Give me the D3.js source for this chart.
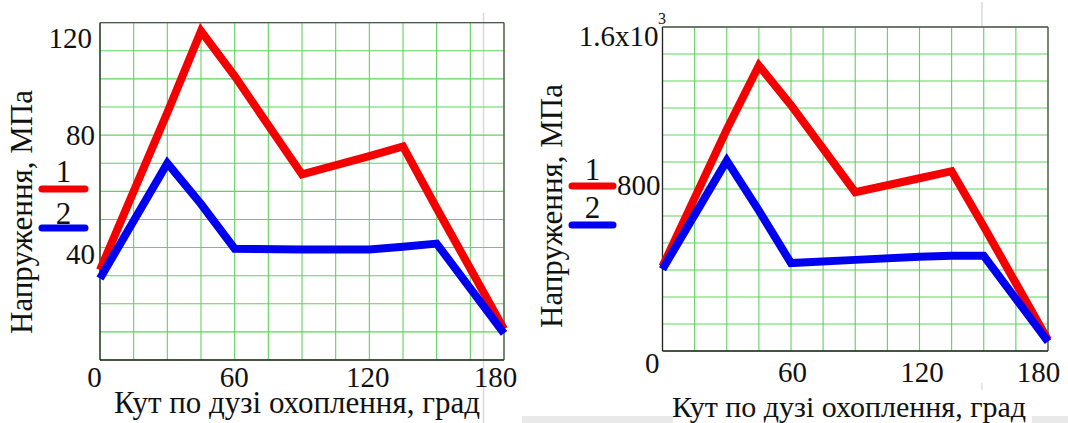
<!DOCTYPE html>
<html><head><meta charset="utf-8">
<script src="https://cdn.jsdelivr.net/npm/d3@7/dist/d3.min.js"></script>
<style>
html,body{margin:0;padding:0;background:#fff;}
svg{display:block;}
text{font-family:"Liberation Serif","Times New Roman",serif;fill:#111;}
</style></head>
<body>
<svg id="chart" width="1068" height="423"></svg>
<script>
// ---- data ----
const angles = [0, 30, 45, 60, 90, 120, 135, 150, 180];
const leftSeries1 = [32, 88, 117, 101, 66, 72.5, 76, 54, 11];
const leftSeries2 = [29, 70, 55.5, 39.6, 39.3, 39.3, 40.3, 41.4, 9.5];
const rightSeries1 = [417, 1094, 1410, 1214, 784, 853, 888, 615, 54];
const rightSeries2 = [404, 940, 693, 434, 450, 465, 470, 470, 46];
const xTicks = [0, 60, 120, 180];
const leftYTicks = [40, 80, 120];
const rightYTicks = [0, 800, 1600];
const legendLabels = ["1", "2"];
const xTitle = "Кут по дузі охоплення, град";
const yTitle = "Напруження, МПа";

const FONT = '"Liberation Serif","Times New Roman",serif';
const svg = d3.select("#chart");
const colors = ["#f40000", "#0000f0"];

// background artifacts of the source screenshot
svg.append("rect").attr("x",522).attr("y",416).attr("width",151).attr("height",7).attr("fill","#e9e9e9");
svg.append("rect").attr("x",1032).attr("y",416).attr("width",36).attr("height",7).attr("fill","#e9e9e9");
svg.append("line").attr("x1",483.5).attr("x2",483.5).attr("y1",13).attr("y2",423).attr("stroke","#d9d9d9").attr("stroke-width",1.5);
svg.append("line").attr("x1",982).attr("x2",982).attr("y1",2).attr("y2",27).attr("stroke","#d9d9d9").attr("stroke-width",1.5);
svg.append("line").attr("x1",982).attr("x2",982).attr("y1",383).attr("y2",390).attr("stroke","#e0e0e0").attr("stroke-width",1.5);

function panel(cfg){
  const x = d3.scaleLinear().domain([0,180]).range([cfg.x0, cfg.x1]);
  const y = d3.scaleLinear().domain([0,cfg.ymax]).range([cfg.y0, cfg.y1]);
  const g = svg.append("g");
  // grid
  const vx = d3.range(0, 181, 15);
  const hy = d3.range(0, 13).map(i => i*cfg.ymax/12);
  g.selectAll(".vg").data(vx).join("line")
    .attr("x1",d=>x(d)).attr("x2",d=>x(d)).attr("y1",y(0)).attr("y2",y(cfg.ymax))
    .attr("stroke","#5fd35f").attr("stroke-width",1.1);
  g.selectAll(".hg").data(hy).join("line")
    .attr("x1",x(0)).attr("x2",x(180)).attr("y1",d=>y(d)).attr("y2",d=>y(d))
    .attr("stroke","#5fd35f").attr("stroke-width",1.1);
  // frame
  g.append("line").attr("x1",x(0)).attr("x2",x(180)).attr("y1",y(cfg.ymax)).attr("y2",y(cfg.ymax)).attr("stroke","#555").attr("stroke-width",1.3);
  g.append("line").attr("x1",x(180)).attr("x2",x(180)).attr("y1",y(0)).attr("y2",y(cfg.ymax)).attr("stroke","#555").attr("stroke-width",1.3);
  g.append("line").attr("x1",x(0)).attr("x2",x(0)).attr("y1",y(0)).attr("y2",y(cfg.ymax)).attr("stroke","#222").attr("stroke-width",1.3);
  g.append("line").attr("x1",x(0)).attr("x2",x(180)).attr("y1",y(0)).attr("y2",y(0)).attr("stroke","#222").attr("stroke-width",1.3);
  // series
  const line = d3.line().x((d,i)=>x(angles[i])).y(d=>y(d));
  cfg.series.forEach((s,k)=>{
    g.append("path").attr("d", line(s)).attr("fill","none")
      .attr("stroke", colors[k]).attr("stroke-width", 8)
      .attr("stroke-linejoin","miter").attr("stroke-miterlimit",10);
  });
  // x axis labels
  const xa = g.append("g").attr("transform",`translate(0,${y(0)})`)
    .call(d3.axisBottom(x).tickValues(cfg.xTicks).tickSize(0).tickFormat(d3.format("d")));
  xa.attr("font-family",FONT);
  xa.select(".domain").remove();
  xa.selectAll("text").attr("font-size",29).attr("fill","#111").attr("font-family",FONT)
    .attr("dy",null).attr("y",cfg.xLabelBase)
    .attr("dx",d=>cfg.xShift(d));
  // y axis labels
  const ya = g.append("g").attr("transform",`translate(${x(0)},0)`)
    .call(d3.axisLeft(y).tickValues(cfg.yTicks).tickSize(0).tickFormat(cfg.yFmt));
  ya.attr("font-family",FONT);
  ya.select(".domain").remove();
  ya.selectAll("text").attr("font-size",29).attr("fill","#111").attr("font-family",FONT)
    .attr("x",d=>cfg.yLabX(d)).attr("dy",d=>cfg.yLabDy(d));
  // titles
  svg.append("text").attr("x",cfg.xtX).attr("y",cfg.xtY).attr("text-anchor","middle")
    .attr("font-family",FONT).attr("font-size",cfg.xtSize).text(xTitle);
  svg.append("text").attr("transform",`translate(${cfg.ytX},${cfg.ytY}) rotate(-90)`)
    .attr("text-anchor","middle").attr("font-family",FONT).attr("font-size",31).text(yTitle);
  // legend
  legendLabels.forEach((lab,k)=>{
    svg.append("line").attr("x1",cfg.legX0).attr("x2",cfg.legX1)
      .attr("y1",cfg.legLineY[k]).attr("y2",cfg.legLineY[k])
      .attr("stroke",colors[k]).attr("stroke-width",7).attr("stroke-linecap","round");
    svg.append("text").attr("x",(cfg.legX0+cfg.legX1)/2+cfg.legTxtDx).attr("y",cfg.legTxtY[k])
      .attr("text-anchor","middle").attr("font-family",FONT).attr("font-size",31).text(lab);
  });
  return {x,y,g};
}

panel({
  x0:100, x1:504, y0:360, y1:22.7, ymax:120,
  series:[leftSeries1, leftSeries2],
  xTicks:xTicks, xLabelBase:27, xShift:d=>({0:-6,60:-1,120:-2,180:-9})[d],
  yTicks:leftYTicks, yFmt:d3.format("d"),
  yLabX:d=>({120:-8,80:-5,40:-5})[d], yLabDy:d=>({120:"0.85em",80:"0.33em",40:"0.55em"})[d],
  xtX:297, xtY:413, xtSize:31, ytX:32, ytY:212,
  legX0:42, legX1:85, legLineY:[189,228], legTxtY:[182,224], legTxtDx:0
});

const rp = panel({
  x0:662.5, x1:1048, y0:351, y1:27, ymax:1600,
  series:[rightSeries1, rightSeries2],
  xTicks:xTicks.slice(1), xLabelBase:31, xShift:d=>({60:1,120:2,180:-10})[d],
  yTicks:rightYTicks, yFmt:d=>d===1600?"1.6x10":d3.format("d")(d),
  yLabX:d=>({1600:-4,800:-2,0:-3})[d], yLabDy:d=>({1600:"0.65em",800:"0.2em",0:"0.75em"})[d],
  xtX:849, xtY:417, xtSize:30, ytX:562, ytY:206,
  legX0:572, legX1:613, legLineY:[186,225], legTxtY:[180,218], legTxtDx:0
});
// exponent of the top tick label
svg.append("text").attr("x",rp.x(0)-4.5).attr("y",rp.y(1600)-3)
  .attr("font-family",FONT).attr("font-size",16).text("3");
</script>
</body></html>
